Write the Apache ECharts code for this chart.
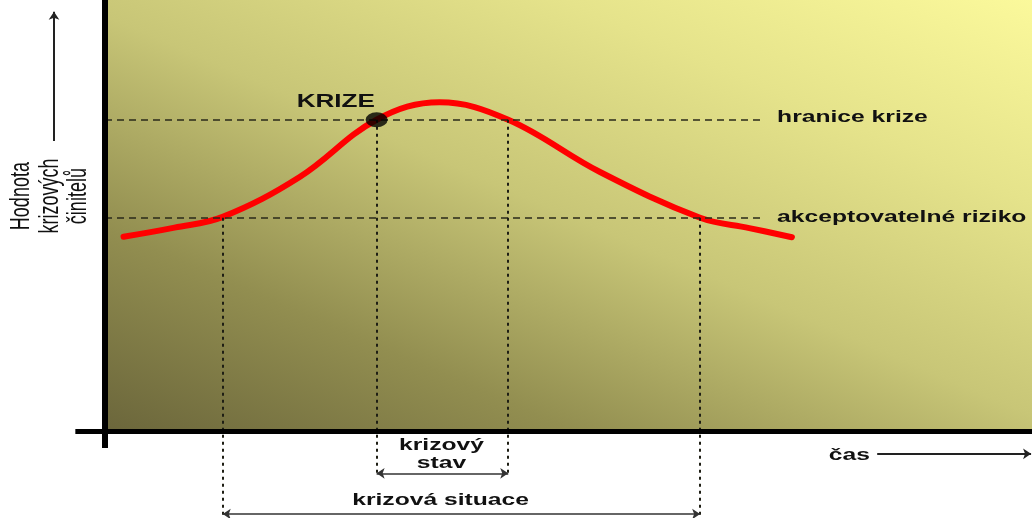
<!DOCTYPE html>
<html lang="cs">
<head>
<meta charset="UTF-8">
<title>Krize</title>
<script src="https://cdn.jsdelivr.net/npm/echarts@6.0.0/dist/echarts.min.js"></script>
<style>
    html, body { margin: 0; padding: 0; background: #fff; }
    #main { width: 1032px; height: 518px; }
</style>
</head>
<body>
<div id="main"></div>
<script>
// krivka hodnoty krizovych cinitelu v case (cas 0..100, hodnota 0..100)
var curveX = [2.0, 7.5, 12.7, 21.0, 29.3, 36.1, 43.5, 53.4, 64.2, 69.5, 74.1];
var curveY = [46.8, 49.0, 51.6, 61.2, 75.0, 79.2, 75.0, 62.4, 51.4, 48.9, 46.7];

var thresholdNames = ['hranice krize', 'akceptovatelné riziko'];
var thresholdValues = [75.0, 51.4];
var crisisState = [29.3, 43.5];      // krizovy stav (prekrocena hranice krize)
var crisisSituation = [12.7, 64.2];  // krizova situace (prekroceno akceptovatelne riziko)

// rozlozeni plochy grafu v pixelech
var W = 1032, H = 518;
var plot = { left: 105, right: 1032, top: 16, base: 431 };
var kx = (plot.right - plot.left) / 100;
var ky = (plot.base - plot.top) / 100;
var xMin = -plot.left / kx, xMax = (W - plot.left) / kx;
var yMin = -(H - plot.base) / ky, yMax = 100 + plot.top / ky;
var guideEnd = 70.8;

// prechod pozadi: izolinie podel uhlopricky vlevo nahore -> vpravo dole
var bw = plot.right - plot.left, bh = plot.base - plot.top;
var dl = Math.sqrt(bw * bw + bh * bh);
var ux = bh / dl, uy = -bw / dl;
var half = (bw / 2 * ux - bh / 2 * uy);
var g0 = [(bw / 2 - half * ux) / bw, (bh / 2 - half * uy) / bh];
var g1 = [(bw / 2 + half * ux) / bw, (bh / 2 + half * uy) / bh];

var chart = echarts.init(document.getElementById('main'));

var guideH = { color: '#2a2a1a', width: 1.5, type: [7, 5] };
var guideV = { color: '#1e1e14', width: 2, type: [3, 4] };
var arrowStyle = { color: '#333', width: 1.5, type: 'solid' };

function seg(a, b, style, s1, s2) {
    return [
        { coord: a, symbol: s1 || 'none', symbolSize: 8, lineStyle: style },
        { coord: b, symbol: s2 || 'none', symbolSize: 8, lineStyle: style }
    ];
}

var option = {
    animation: false,
    grid: { left: 0, right: 0, top: 0, bottom: 0 },
    xAxis: { type: 'value', min: xMin, max: xMax, show: false },
    yAxis: { type: 'value', min: yMin, max: yMax, show: false },
    series: [
        {
            name: 'pozadi',
            type: 'line',
            data: [],
            silent: true,
            z: 1,
            markArea: {
                silent: true,
                itemStyle: {
                    opacity: 1,
                    color: new echarts.graphic.LinearGradient(g0[0], g0[1], g1[0], g1[1], [
                        { offset: 0, color: '#69643a' },
                        { offset: 0.25, color: '#928e50' },
                        { offset: 0.5, color: '#c8c677' },
                        { offset: 0.75, color: '#e5e38b' },
                        { offset: 1, color: '#fcfa9c' }
                    ])
                },
                data: [[{ coord: [0, yMax] }, { coord: [100, 0] }]]
            }
        },
        {
            name: 'vodici cary',
            type: 'line',
            data: [],
            silent: true,
            z: 2,
            markLine: {
                silent: true,
                symbol: 'none',
                label: { show: false },
                emphasis: { disabled: true },
                data: [
                    seg([0, thresholdValues[0]], [guideEnd, thresholdValues[0]], guideH),
                    seg([0, thresholdValues[1]], [guideEnd, thresholdValues[1]], guideH),
                    seg([crisisState[0], thresholdValues[0]], [crisisState[0], -10.8], guideV),
                    seg([crisisState[1], thresholdValues[0]], [crisisState[1], -10.8], guideV),
                    seg([crisisSituation[0], thresholdValues[1]], [crisisSituation[0], yMin], guideV),
                    seg([crisisSituation[1], thresholdValues[1]], [crisisSituation[1], yMin], guideV),
                    seg([crisisState[0], -10.2], [crisisState[1], -10.2], arrowStyle, 'arrow', 'arrow'),
                    seg([crisisSituation[0], -20.0], [crisisSituation[1], -20.0], arrowStyle, 'arrow', 'arrow'),
                    seg([83.3, -5.5], [99.9, -5.5], { color: '#222', width: 1.8, type: 'solid' }, 'none', 'arrow'),
                    seg([-5.5, 69.9], [-5.5, 101.0], { color: '#222', width: 2, type: 'solid' }, 'none', 'arrow')
                ]
            }
        },
        {
            name: 'osy',
            type: 'line',
            data: [],
            silent: true,
            z: 3,
            markLine: {
                silent: true,
                symbol: 'none',
                label: { show: false },
                emphasis: { disabled: true },
                data: [
                    seg([0, yMax], [0, -4.1], { color: '#000', width: 6, type: 'solid' }),
                    seg([-3.2, 0], [xMax, 0], { color: '#000', width: 5, type: 'solid' })
                ]
            }
        },
        {
            name: 'Hodnota krizových činitelů',
            type: 'line',
            z: 4,
            smooth: 0.38,
            symbol: 'none',
            lineStyle: { color: '#ff0000', width: 6, cap: 'round' },
            data: curveX.map(function (x, i) { return [x, curveY[i]]; })
        },
        {
            name: 'KRIZE',
            type: 'scatter',
            z: 5,
            symbol: 'circle',
            symbolSize: [22, 15],
            itemStyle: { color: '#000' },
            data: [[crisisState[0], thresholdValues[0]]]
        }
    ]
};
chart.setOption(option);

// popisky jako text roztazeny do sirky (jako v predloze)
var font = 'bold 17px "Liberation Sans", Arial, sans-serif';
var texts = [
    { text: 'KRIZE', at: [24.9, 79.3], align: 'center', font: 'bold 18px "Liberation Sans", Arial, sans-serif' },
    { text: thresholdNames[0], at: [72.5, thresholdValues[0] + 0.6], align: 'left' },
    { text: thresholdNames[1], at: [72.5, thresholdValues[1]], align: 'left' },
    { text: 'krizový', at: [36.3, -3.4], align: 'center' },
    { text: 'stav', at: [36.3, -7.9], align: 'center' },
    { text: 'krizová situace', at: [36.2, -16.8], align: 'center' },
    { text: 'čas', at: [80.3, -5.8], align: 'center' }
];
var graphic = texts.map(function (t) {
    var p = chart.convertToPixel({ gridIndex: 0 }, t.at);
    return {
        type: 'text',
        x: p[0],
        y: p[1],
        scaleX: 1.45,
        z: 10,
        style: {
            text: t.text,
            font: t.font || font,
            fill: '#111',
            align: t.align, textAlign: t.align,
            verticalAlign: 'middle', textVerticalAlign: 'middle',
            shadowColor: 'rgba(255,255,255,0.9)',
            shadowBlur: 4
        }
    };
});
var yl = chart.convertToPixel({ gridIndex: 0 }, [-5.9, 56.6]);
graphic.push({
    type: 'text',
    x: yl[0],
    y: yl[1],
    rotation: Math.PI / 2,
    scaleY: 1.5,
    z: 10,
    style: {
        text: 'Hodnota\nkrizových\nčinitelů',
        font: '18px "Liberation Sans", Arial, sans-serif',
        lineHeight: 19,
        fill: '#111',
        align: 'center', textAlign: 'center',
        verticalAlign: 'middle', textVerticalAlign: 'middle'
    }
});
chart.setOption({ graphic: graphic });
</script>
</body>
</html>
